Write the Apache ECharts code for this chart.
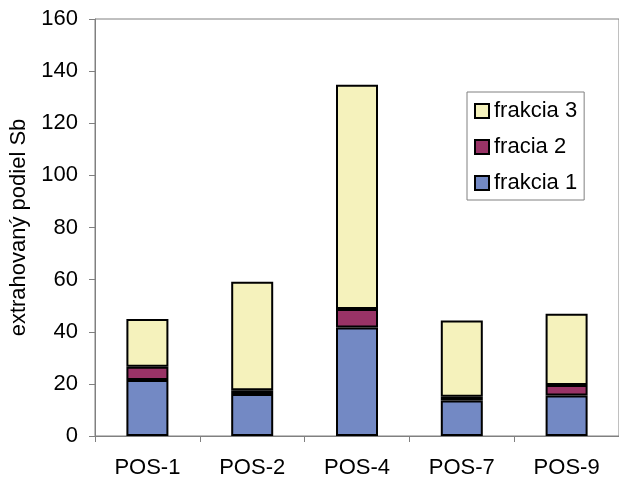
<!DOCTYPE html>
<html><head><meta charset="utf-8">
<script src="https://cdn.jsdelivr.net/npm/echarts@6/dist/echarts.min.js"></script>
<style>html,body{margin:0;padding:0;background:#fff}#c{width:619px;height:480px}</style>
</head><body><div id="c"></div>
<script>
const categories = ['POS-1','POS-2','POS-4','POS-7','POS-9'];
const frakcia1 = [21.5, 16.1, 41.6, 13.6, 15.5];
const fracia2 = [5.1, 1.5, 7.1, 1.5, 4.1];
const frakcia3 = [18.3, 41.6, 86.1, 29.2, 27.3];
const yTicks = [0,20,40,60,80,100,120,140,160];

const chart = echarts.init(document.getElementById('c'));
const font = 'Liberation Sans, Arial, sans-serif';
const bar = (name, data, color) => ({
  name, type: 'bar', stack: 's', data, barWidth: 42,
  itemStyle: { color, borderColor: '#000', borderWidth: 2 },
  emphasis: { disabled: true }
});
chart.setOption({
  animation: false,
  grid: { left: 95, top: 19, bottom: 44, right: -7, show: true, borderColor: '#808080', borderWidth: 1, backgroundColor: 'transparent' },
  legend: {
    orient: 'vertical', left: 467, top: 92, icon: 'rect',
    data: ['frakcia 3','fracia 2','frakcia 1'],
    itemWidth: 14, itemHeight: 14, itemGap: 14,
    borderColor: '#808080', borderWidth: 1, backgroundColor: '#fff',
    padding: [8, 7, 6, 7],
    textStyle: { fontFamily: font, fontSize: 22, color: '#000', lineHeight: 22 }
  },
  xAxis: {
    type: 'category', data: categories,
    axisLine: { lineStyle: { color: '#808080' } },
    axisTick: { show: true, length: 6, lineStyle: { color: '#808080' } },
    axisLabel: { fontFamily: font, fontSize: 22, color: '#000', margin: 21 }
  },
  yAxis: {
    type: 'value', min: 0, max: 160, interval: 20,
    name: 'extrahovaný podiel Sb', nameLocation: 'middle', nameGap: 62, nameRotate: 90,
    nameTextStyle: { fontFamily: font, fontSize: 22, color: '#000' },
    axisLine: { show: true, lineStyle: { color: '#808080' } },
    axisTick: { show: true, length: 6, lineStyle: { color: '#808080' } },
    splitLine: { show: false },
    axisLabel: { fontFamily: font, fontSize: 22, color: '#000', margin: 17,
      formatter: v => yTicks.includes(v) ? String(v) : '' }
  },
  series: [
    bar('frakcia 1', frakcia1, '#7389C4'),
    bar('fracia 2', fracia2, '#993366'),
    bar('frakcia 3', frakcia3, '#F5F2BC')
  ]
});
</script></body></html>
